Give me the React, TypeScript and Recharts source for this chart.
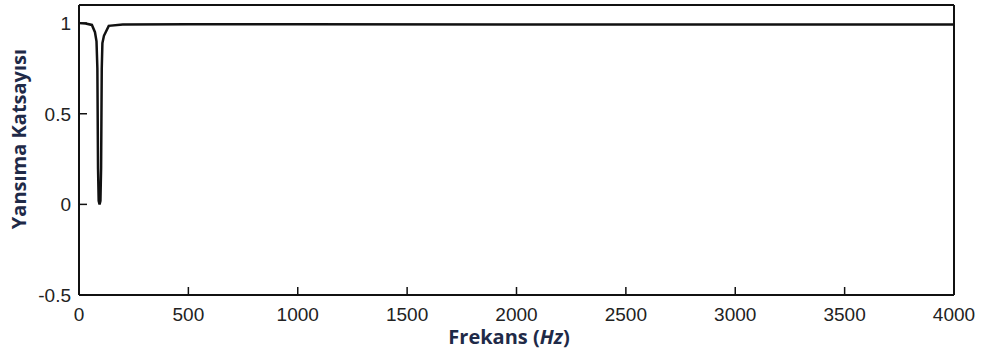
import { LineChart, Line, XAxis, YAxis, Label } from "recharts";

// frekans (Hz) ve yansıma katsayısı değerleri
const frequencies = [0, 30, 59, 73, 80, 84, 87, 90, 94, 98, 101, 104, 107, 114, 136, 200, 500, 1000, 2000, 3000, 4000];
const reflection = [1.0, 0.998, 0.99, 0.95, 0.9, 0.75, 0.2, 0.02, 0.0, 0.02, 0.2, 0.75, 0.89, 0.93, 0.985, 0.993, 0.994, 0.994, 0.993, 0.993, 0.993];

const xTicks = [0, 500, 1000, 1500, 2000, 2500, 3000, 3500, 4000];
const yTicks = [-0.5, 0, 0.5, 1];

const data = frequencies.map((f, i) => ({ f, r: reflection[i] }));

const tickFont = "'Liberation Sans', Arial, sans-serif";
const labelFont = "'Open Sans', 'Noto Sans', sans-serif";
const labelColor = "#1f2a48";

const BottomTick = (props: any) => {
  const { x, y, payload } = props;
  return (
    <text x={x} y={y + 1} textAnchor="middle" fontFamily={tickFont} fontSize={19} fill="#222">
      {payload.value}
    </text>
  );
};

const LeftTick = (props: any) => {
  const { x, y, payload } = props;
  return (
    <text x={x} y={y + 7} textAnchor="end" fontFamily={tickFont} fontSize={19} fill="#222">
      {payload.value}
    </text>
  );
};

const tickStyle = { stroke: "#111", strokeWidth: 1.5 };

export default function App() {
  return (
    <div style={{ position: "absolute", left: 0, top: 0, background: "#fff" }}>
      <LineChart width={982} height={354} data={data} margin={{ top: 4, right: 27, bottom: 0, left: 0 }}>
        <XAxis
          xAxisId="bottom"
          dataKey="f"
          type="number"
          domain={[0, 4000]}
          ticks={xTicks}
          tickLine={tickStyle}
          tickSize={-8}
          tickMargin={33}
          tick={<BottomTick />}
          height={59}
          stroke="#111"
          strokeWidth={2}
          interval={0}
        >
          <Label
            content={() => (
              <text
                x={509}
                y={344}
                textAnchor="middle"
                fontFamily={labelFont}
                fontWeight="bold"
                fontSize={20}
                fill={labelColor}
              >
                Frekans (<tspan fontStyle="italic">Hz</tspan>)
              </text>
            )}
          />
        </XAxis>
        <XAxis
          xAxisId="top"
          orientation="top"
          dataKey="f"
          type="number"
          domain={[0, 4000]}
          ticks={xTicks}
          tickLine={tickStyle}
          tickSize={-8}
          tick={false}
          height={1}
          stroke="#111"
          strokeWidth={2}
          interval={0}
        />
        <YAxis
          yAxisId="left"
          type="number"
          domain={[-0.5, 1.1]}
          ticks={yTicks}
          tickLine={tickStyle}
          tickSize={-8}
          tickMargin={16}
          tick={<LeftTick />}
          width={79}
          stroke="#111"
          strokeWidth={2}
          interval={0}
        >
          <Label
            content={() => (
              <text
                x={18}
                y={139}
                transform="rotate(-90 18 139)"
                textAnchor="middle"
                dominantBaseline="central"
                fontFamily={labelFont}
                fontWeight="bold"
                fontSize={20}
                fill={labelColor}
              >
                Yansıma Katsayısı
              </text>
            )}
          />
        </YAxis>
        <YAxis
          yAxisId="right"
          orientation="right"
          type="number"
          domain={[-0.5, 1.1]}
          ticks={yTicks}
          tickLine={tickStyle}
          tickSize={-8}
          tick={false}
          width={1}
          stroke="#111"
          strokeWidth={2}
          interval={0}
        />
        <Line
          xAxisId="bottom"
          yAxisId="left"
          type="linear"
          dataKey="r"
          stroke="#111"
          strokeWidth={2.5}
          dot={false}
          isAnimationActive={false}
        />
      </LineChart>
    </div>
  );
}
